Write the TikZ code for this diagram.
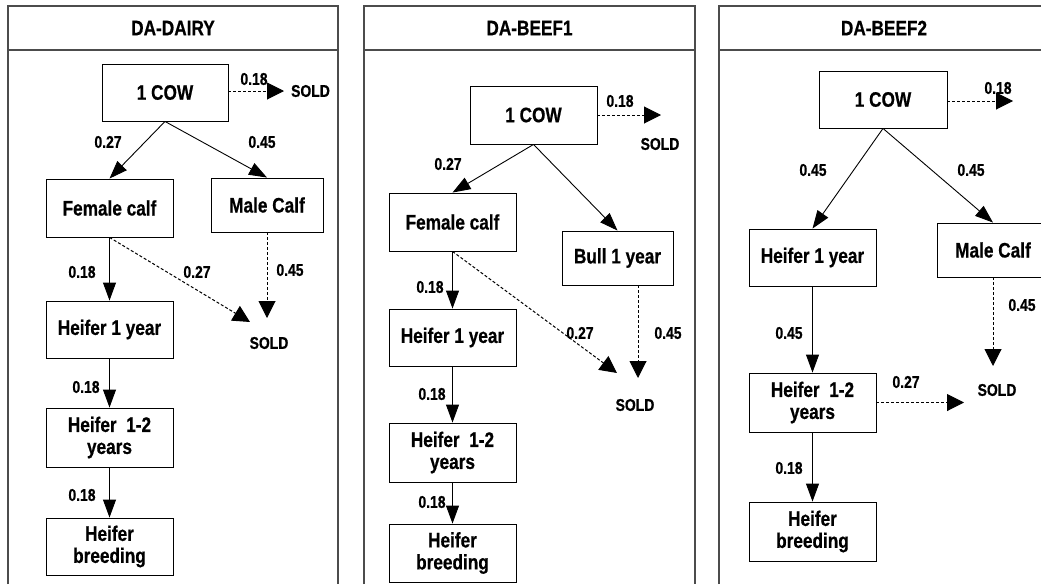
\documentclass[tikz,border=0pt]{standalone}
\usepackage{fontspec}
\setmainfont{Liberation Sans}[FakeStretch=0.82, FakeBold=0.6]
\usetikzlibrary{arrows.meta}

\tikzset{
  panel/.style={draw=black!70, line width=1.4pt},
  box/.style={draw, line width=0.9pt, inner sep=0pt, align=center,
    font=\fontsize{21}{22}\selectfont\bfseries},
  lbl/.style={font=\fontsize{17}{19}\selectfont\bfseries, inner sep=0pt},
  head/.style={font=\fontsize{21}{24}\selectfont\bfseries, inner sep=0pt},
  arr/.style={line width=0.9pt, -{Triangle[length=18pt,width=13pt]}},
  darr/.style={line width=1pt, dash pattern=on 3pt off 2pt,
    -{Triangle[length=17pt,width=17pt]}},
}

\begin{document}
\begin{tikzpicture}[x=1pt,y=-1pt]
\useasboundingbox (0,0) rectangle (1041,584);

% ---------- panel frames ----------
\draw[panel] (8,584) -- (8,6) -- (338,6) -- (338,584);
\draw[panel] (8,50) -- (338,50);
\draw[panel] (364,584) -- (364,6) -- (695,6) -- (695,584);
\draw[panel] (364,50) -- (695,50);
\draw[panel] (719,584) -- (719,6) -- (1050,6) -- (1050,584);
\draw[panel] (719,50) -- (1050,50);

\node[head] (t1) at (173,28) {DA-DAIRY};
\node[head] (t2) at (529.5,28) {DA-BEEF1};
\node[head] (t3) at (884,28) {DA-BEEF2};

% ---------- DA-DAIRY ----------
\node[box, minimum width=126pt, minimum height=57pt] (cow1) at (165,92.5) {1 COW};
\node[box, minimum width=127pt, minimum height=58pt] (fem1) at (109.5,208) {Female calf};
\node[box, minimum width=112pt, minimum height=54pt] (male1) at (267,205) {Male Calf};
\node[box, minimum width=127pt, minimum height=57pt] (h1a) at (109.5,329.5) {Heifer 1 year};
\node[box, minimum width=127pt, minimum height=59pt] (h1b) at (109.5,437.5) {Heifer\ \ 1-2\\years};
\node[box, minimum width=127pt, minimum height=57pt] (h1c) at (109.5,546.5) {Heifer\\breeding};

\coordinate (c1) at (284,91);
\node[lbl] (s1a) at (310.5,91) {SOLD};
\coordinate (f1) at (250,322);
\coordinate (m1) at (267,318);
\node[lbl] (s1b) at (269,343) {SOLD};

\draw[darr] (cow1.east |- c1) -- (c1);
\draw[arr] (cow1.south) -- (fem1.north);
\draw[arr] (cow1.south) -- (male1.north);
\draw[arr] (fem1.south) -- (h1a.north);
\draw[darr] (fem1.south) -- (f1);
\draw[darr] (male1.south) -- (m1);
\draw[arr] (h1a.south) -- (h1b.north);
\draw[arr] (h1b.south) -- (h1c.north);

\node[lbl] at (254,79) {0.18};
\node[lbl] at (108,142) {0.27};
\node[lbl] at (262,142) {0.45};
\node[lbl] at (82,272) {0.18};
\node[lbl] at (197,272) {0.27};
\node[lbl] at (290,270) {0.45};
\node[lbl] at (86,387) {0.18};
\node[lbl] at (82,495) {0.18};

% ---------- DA-BEEF1 ----------
\node[box, minimum width=127pt, minimum height=58pt] (cow2) at (533.5,115) {1 COW};
\node[box, minimum width=127pt, minimum height=58pt] (fem2) at (452.5,222) {Female calf};
\node[box, minimum width=111pt, minimum height=54pt] (bull2) at (617.5,258) {Bull 1 year};
\node[box, minimum width=127pt, minimum height=57pt] (h2a) at (452.5,337.5) {Heifer 1 year};
\node[box, minimum width=127pt, minimum height=59pt] (h2b) at (452.5,452.5) {Heifer\ \ 1-2\\years};
\node[box, minimum width=127pt, minimum height=58pt] (h2c) at (452.5,553) {Heifer\\breeding};

\coordinate (c2) at (661,115);
\node[lbl] (s2a) at (660,144) {SOLD};
\coordinate (f2) at (617,373);
\coordinate (b2) at (638,378);
\node[lbl] (s2b) at (635,405) {SOLD};

\draw[darr] (cow2.east) -- (c2);
\draw[arr] (cow2.south) -- (fem2.north);
\draw[arr] (cow2.south) -- (bull2.north);
\draw[arr] (fem2.south) -- (h2a.north);
\draw[darr] (fem2.south) -- (f2);
\draw[darr] (bull2.south -| b2) -- (b2);
\draw[arr] (h2a.south) -- (h2b.north);
\draw[arr] (h2b.south) -- (h2c.north);

\node[lbl] at (620,101) {0.18};
\node[lbl] at (448,164) {0.27};
\node[lbl] at (430,287) {0.18};
\node[lbl] at (580,333) {0.27};
\node[lbl] at (668,333) {0.45};
\node[lbl] at (432,394) {0.18};
\node[lbl] at (432,502) {0.18};

% ---------- DA-BEEF2 ----------
\node[box, minimum width=128pt, minimum height=57pt] (cow3) at (883,99.5) {1 COW};
\node[box, minimum width=127pt, minimum height=57pt] (h3a) at (812.5,257.5) {Heifer 1 year};
\node[box, minimum width=112pt, minimum height=54pt] (male3) at (993,250) {Male Calf};
\node[box, minimum width=127pt, minimum height=59pt] (h3b) at (812.5,402.5) {Heifer\ \ 1-2\\years};
\node[box, minimum width=127pt, minimum height=59pt] (h3c) at (812.5,531.5) {Heifer\\breeding};

\coordinate (c3) at (1013,101);
\coordinate (m3) at (993,366);
\coordinate (h3s) at (964,402.5);
\node[lbl] (s3) at (997,390) {SOLD};

\draw[darr] (cow3.east |- c3) -- (c3);
\draw[arr] (cow3.south) -- (h3a.north);
\draw[arr] (cow3.south) -- (male3.north);
\draw[darr] (male3.south) -- (m3);
\draw[arr] (h3a.south) -- (h3b.north);
\draw[darr] (h3b.east) -- (h3s);
\draw[arr] (h3b.south) -- (h3c.north);

\node[lbl] at (998,88) {0.18};
\node[lbl] at (813,170) {0.45};
\node[lbl] at (971,170) {0.45};
\node[lbl] at (1022,305) {0.45};
\node[lbl] at (789,333) {0.45};
\node[lbl] at (906,382) {0.27};
\node[lbl] at (789,468) {0.18};
\end{tikzpicture}
\end{document}
